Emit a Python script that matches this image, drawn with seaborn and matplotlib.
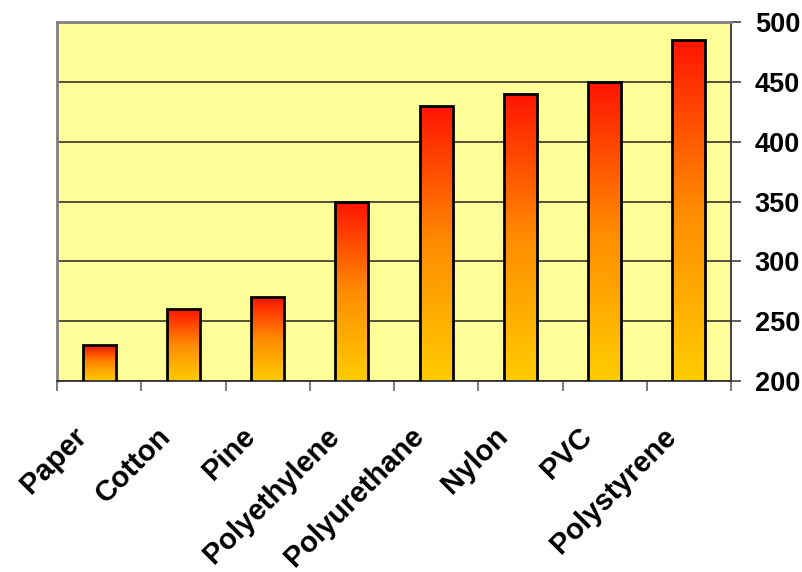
import numpy as np
import pandas as pd
import matplotlib
matplotlib.use("Agg")
import matplotlib.pyplot as plt
import matplotlib.transforms as mtransforms
from matplotlib.colors import LinearSegmentedColormap
import seaborn as sns

# Ignition temperatures by material
materials = ["Paper", "Cotton", "Pine", "Polyethylene", "Polyurethane",
             "Nylon", "PVC", "Polystyrene"]
temperatures = [230, 260, 270, 350, 430, 440, 450, 485]
y_ticks = [200, 250, 300, 350, 400, 450, 500]

df = pd.DataFrame({"material": materials, "temperature": temperatures})

sns.set_theme(style="white")
plt.rcParams["font.family"] = ["Liberation Sans", "DejaVu Sans"]
plt.rcParams["text.color"] = "black"
plt.rcParams["xtick.color"] = "black"
plt.rcParams["ytick.color"] = "black"

W, H = 803, 572
fig = plt.figure(figsize=(W / 100, H / 100), dpi=100)
left, right, top, bottom = 57, 731, 22, 381
ax = fig.add_axes([left / W, (H - bottom) / H, (right - left) / W, (bottom - top) / H])
ax.set_facecolor("#FFFE99")

sns.barplot(data=df, x="material", y="temperature", order=materials,
            width=0.39, facecolor="none", edgecolor="black", linewidth=2,
            ax=ax, zorder=3)

ax.set_ylim(y_ticks[0], y_ticks[-1])
ax.set_xlim(-0.5, len(materials) - 0.5)

# Vertical red-to-yellow gradient inside each bar
cmap = LinearSegmentedColormap.from_list("fire", ["#FFCC00", "#FF8C00", "#FF1400"])
grad = np.linspace(0, 1, 256).reshape(-1, 1)
for patch in ax.patches:
    x0, y0 = patch.get_x(), patch.get_y()
    w, h = patch.get_width(), patch.get_height()
    if h <= 0:
        continue
    y_base = max(y0, y_ticks[0])
    im = ax.imshow(grad, cmap=cmap, origin="lower", aspect="auto",
                   extent=(x0, x0 + w, y_base, y0 + h), zorder=2.5,
                   interpolation="bicubic")
    im.set_clip_path(patch)

ax.set_xlim(-0.5, len(materials) - 0.5)
ax.set_ylim(y_ticks[0], y_ticks[-1])

# Grid and spines
ax.set_axisbelow(True)
ax.yaxis.grid(True, color="#222222", linewidth=1.1)
ax.xaxis.grid(False)
for side in ["left", "top"]:
    ax.spines[side].set_color("#808080")
    ax.spines[side].set_linewidth(2)
for side in ["right", "bottom"]:
    ax.spines[side].set_color("#333333")
    ax.spines[side].set_linewidth(1.3)
    ax.spines[side].set_visible(True)

# Value axis on the right
ax.yaxis.tick_right()
ax.set_yticks(y_ticks)
ax.set_yticklabels([str(v) for v in y_ticks], fontsize=19.5, fontweight="bold",
                   color="black")
ax.tick_params(axis="y", which="major", right=True, left=False, length=7,
               width=1.1, color="#333333", pad=10, direction="out")
ax.set_ylabel("")
ax.set_xlabel("")

# Category boundaries get tick marks; labels are rotated
ax.set_xticks(np.arange(-0.5, len(materials)), minor=True)
ax.tick_params(axis="x", which="minor", bottom=True, length=7, width=1.1,
               color="#555555", direction="out")
ax.set_xticks(range(len(materials)))
ax.set_xticklabels(materials, fontsize=21, fontweight="bold", rotation=45,
                   ha="right", va="center", rotation_mode="anchor", color="black")
ax.tick_params(axis="x", which="major", length=0, pad=0)

offset = mtransforms.ScaledTranslation(-17 / 100, -51 / 100, fig.dpi_scale_trans)
for lbl in ax.get_xticklabels():
    lbl.set_transform(lbl.get_transform() + offset)

fig.savefig("out.png", dpi=100, facecolor="white")
